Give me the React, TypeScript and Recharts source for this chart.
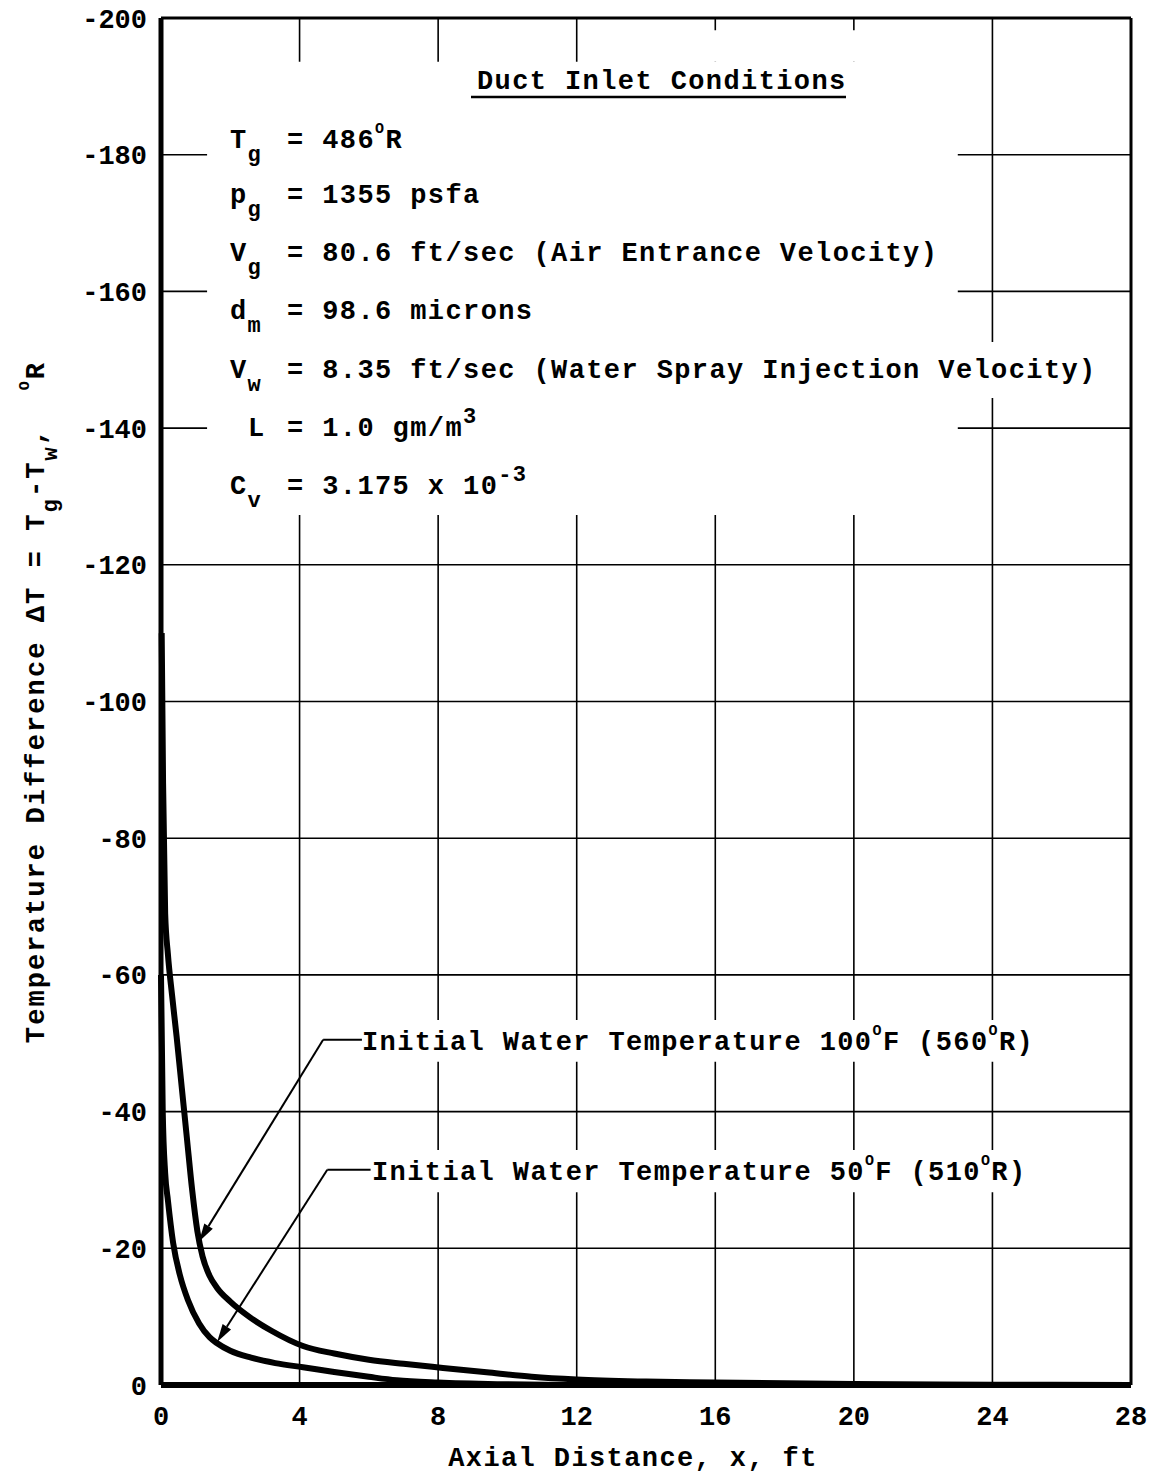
import React from 'react';
import {
  LineChart,
  Line,
  XAxis,
  YAxis,
  CartesianGrid,
  ReferenceLine,
  ReferenceArea,
} from 'recharts';

const W = 1168;
const H = 1474;
const FONT = "'Liberation Mono', 'Courier New', monospace";

const xTicks = [0, 4, 8, 12, 16, 20, 24, 28];
const yTicks = [-200, -180, -160, -140, -120, -100, -80, -60, -40, -20, 0];

// initial water temperature 100 F (560 R)
const warmX = [0.02, 0.06, 0.12, 0.2, 0.32, 0.45, 0.6, 0.75, 0.9, 1.05, 1.2, 1.4, 1.62, 2.0, 2.57, 3.2, 4.1, 5.0, 6.0, 7.0, 8.14, 9.4, 10.7, 12, 14, 16, 20, 24, 28];
const warmDT = [-110, -88, -69, -63, -57, -51, -43.5, -36, -28.5, -22.5, -18.8, -16, -14.2, -12.2, -9.9, -7.9, -5.7, -4.6, -3.7, -3.1, -2.5, -1.85, -1.2, -0.8, -0.5, -0.35, -0.15, -0.05, 0];

// initial water temperature 50 F (510 R)
const coldX = [0, 0.05, 0.12, 0.2, 0.35, 0.55, 0.78, 1.1, 1.4, 1.62, 2.0, 2.6, 3.3, 4.1, 5.0, 6.0, 6.8, 8, 10, 12, 28];
const coldDT = [-60, -40, -31, -27, -20.8, -16, -12.4, -9, -7, -6.1, -5.0, -4.0, -3.2, -2.6, -1.9, -1.2, -0.7, -0.35, -0.1, 0, 0];

const warmData = warmX.map((x, i) => ({ x, dt: warmDT[i] }));
const coldData = coldX.map((x, i) => ({ x, dt: coldDT[i] }));

type Part = [string, 'n' | 'b' | 'p'];

const Rich = ({ x, y, parts, anchor = 'start', transform, ls = 1.4 }: { x: number; y: number; parts: Part[]; anchor?: string; transform?: string; ls?: number }) => {
  let off = 0;
  return (
    <text
      x={x}
      y={y}
      textAnchor={anchor as any}
      transform={transform}
      fontFamily={FONT}
      fontWeight={700}
      fontSize={27}
      letterSpacing={ls}
      fill="#000"
      style={{ whiteSpace: 'pre' }}
    >
      {parts.map(([t, k], i) => {
        const target = k === 'b' ? 13 : k === 'p' ? (t === 'O' ? -15 : -13) : 0;
        const dy = target - off;
        off = target;
        const size = k === 'n' ? 27 : t === 'O' ? 15 : 22;
        return (
          <tspan key={i} dy={dy} fontSize={size}>
            {t}
          </tspan>
        );
      })}
    </text>
  );
};

const params: { sx: number; y: number; sym: Part[]; rest: Part[] }[] = [
  { sx: 230, y: 148, sym: [['T', 'n'], ['g', 'b']], rest: [['= 486', 'n'], ['O', 'p'], ['R', 'n']] },
  { sx: 230, y: 203, sym: [['p', 'n'], ['g', 'b']], rest: [['= 1355 psfa', 'n']] },
  { sx: 230, y: 261, sym: [['V', 'n'], ['g', 'b']], rest: [['= 80.6 ft/sec (Air Entrance Velocity)', 'n']] },
  { sx: 230, y: 319, sym: [['d', 'n'], ['m', 'b']], rest: [['= 98.6 microns', 'n']] },
  { sx: 230, y: 378, sym: [['V', 'n'], ['w', 'b']], rest: [['= 8.35 ft/sec (Water Spray Injection Velocity)', 'n']] },
  { sx: 248, y: 436, sym: [['L', 'n']], rest: [['= 1.0 gm/m', 'n'], ['3', 'p']] },
  { sx: 230, y: 494, sym: [['C', 'n'], ['v', 'b']], rest: [['= 3.175 x 10', 'n'], ['-3', 'p']] },
];

const arrowShape = (p: any) => {
  const { x1, y1, x2, y2 } = p;
  const a = Math.atan2(y2 - y1, x2 - x1);
  const len = 18;
  const half = 5;
  const bx = x2 - len * Math.cos(a);
  const by = y2 - len * Math.sin(a);
  const nx = -Math.sin(a) * half;
  const ny = Math.cos(a) * half;
  return (
    <g>
      <line x1={x1} y1={y1} x2={bx} y2={by} stroke="#000" strokeWidth={2} />
      <polygon points={`${x2},${y2} ${bx + nx},${by + ny} ${bx - nx},${by - ny}`} fill="#000" />
    </g>
  );
};

const tickStyle = { fill: '#000', fontFamily: FONT, fontSize: 27, fontWeight: 700 };

export default function App() {
  return (
    <div style={{ position: 'absolute', left: 0, top: 0, width: W, height: H, background: '#fff' }}>
      <LineChart width={W} height={H} margin={{ top: 18, right: 37, bottom: 0, left: 0 }}>
        <CartesianGrid stroke="#000" strokeWidth={1.6} />
        <XAxis
          type="number"
          dataKey="x"
          domain={[0, 28]}
          ticks={xTicks}
          interval={0}
          height={89}
          tickSize={0}
          tickMargin={21}
          tickLine={false}
          tick={tickStyle}
          axisLine={{ stroke: '#000', strokeWidth: 6 }}
        />
        <YAxis
          type="number"
          domain={[-200, 0]}
          reversed
          ticks={yTicks}
          interval={0}
          width={161}
          tickSize={0}
          tickMargin={14}
          tickLine={false}
          tick={tickStyle}
          axisLine={{ stroke: '#000', strokeWidth: 5 }}
        />
        {/* white panels behind the annotations */}
        <ReferenceArea x1={1.33} x2={23.0} y1={-193.6} y2={-127.3} fill="#fff" fillOpacity={1} stroke="none" />
        <ReferenceArea x1={15.8} x2={23.0} y1={-198.2} y2={-193.6} fill="#fff" fillOpacity={1} stroke="none" />
        <ReferenceArea x1={23.0} x2={26.9} y1={-152.6} y2={-144.4} fill="#fff" fillOpacity={1} stroke="none" />
        <ReferenceArea x1={5.63} x2={25.5} y1={-53.4} y2={-47.3} fill="#fff" fillOpacity={1} stroke="none" />
        <ReferenceArea x1={5.92} x2={25.3} y1={-34.4} y2={-28.2} fill="#fff" fillOpacity={1} stroke="none" />
        <ReferenceLine y={-200} stroke="#000" strokeWidth={3} />
        <ReferenceLine x={28} stroke="#000" strokeWidth={3} />
        {/* leaders */}
        <ReferenceLine segment={[{ x: 4.68, y: -50.5 }, { x: 5.8, y: -50.5 }]} stroke="#000" strokeWidth={2} />
        <ReferenceLine segment={[{ x: 4.68, y: -50.5 }, { x: 1.1, y: -21.0 }]} shape={arrowShape} />
        <ReferenceLine segment={[{ x: 4.8, y: -31.5 }, { x: 6.05, y: -31.5 }]} stroke="#000" strokeWidth={2} />
        <ReferenceLine segment={[{ x: 4.8, y: -31.5 }, { x: 1.62, y: -6.3 }]} shape={arrowShape} />
        <Line data={warmData} dataKey="dt" type="monotone" stroke="#000" strokeWidth={6} dot={false} isAnimationActive={false} />
        <Line data={coldData} dataKey="dt" type="monotone" stroke="#000" strokeWidth={6} dot={false} isAnimationActive={false} />
      </LineChart>

      <svg width={W} height={H} style={{ position: 'absolute', left: 0, top: 0, pointerEvents: 'none' }}>
        <Rich x={477} y={89} parts={[['Duct Inlet Conditions', 'n']]} />
        <line x1={471} y1={97} x2={846} y2={97} stroke="#000" strokeWidth={2.5} />
        {params.map((r, i) => (
          <g key={i}>
            <Rich x={r.sx} y={r.y} parts={r.sym} />
            <Rich x={287} y={r.y} parts={r.rest} />
          </g>
        ))}
        <Rich
          x={362}
          y={1050}
          parts={[['Initial Water Temperature 100', 'n'], ['O', 'p'], ['F (560', 'n'], ['O', 'p'], ['R)', 'n']]}
        />
        <Rich
          x={372}
          y={1180}
          parts={[['Initial Water Temperature 50', 'n'], ['O', 'p'], ['F (510', 'n'], ['O', 'p'], ['R)', 'n']]}
        />
        <Rich x={633} y={1466} anchor="middle" parts={[['Axial Distance, x, ft', 'n']]} />
        <Rich
          x={44}
          y={702}
          anchor="middle"
          ls={2.1}
          transform="rotate(-90 44 702)"
          parts={[
            ['Temperature Difference \u0394T = T', 'n'],
            ['g', 'b'],
            ['-T', 'n'],
            ['w', 'b'],
            [',  ', 'n'],
            ['O', 'p'],
            ['R', 'n'],
          ]}
        />
      </svg>
    </div>
  );
}
